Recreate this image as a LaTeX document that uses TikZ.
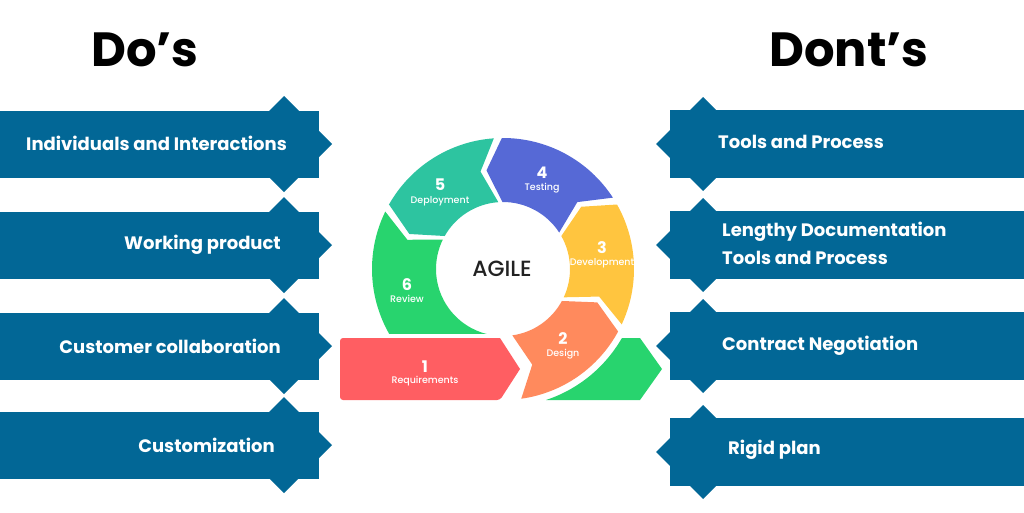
\documentclass[tikz,border=0pt]{standalone}
\usepackage{fontspec}
\setmainfont{Poppins}
\newfontfamily\popmed{Poppins Medium}

\definecolor{bannerblue}{RGB}{2,103,150}
\definecolor{reqred}{RGB}{255,94,98}
\definecolor{desorange}{RGB}{255,138,93}
\definecolor{devyellow}{RGB}{255,197,63}
\definecolor{testblue}{RGB}{86,105,214}
\definecolor{depteal}{RGB}{45,196,160}
\definecolor{revgreen}{RGB}{40,212,110}
\definecolor{agilegray}{RGB}{34,34,34}

% one piece of the ring: colour, start angle, end angle
\newcommand{\agileseg}[3]{%
  \fill[#1] (#2:131) arc[start angle=#2, end angle=#3, radius=131]
    -- (#3+9:100) -- (#3:67) arc[start angle=#3, end angle=#2, radius=67]
    -- (#2+9:100) -- cycle;}

\tikzset{
  bantext/.style={text=white, font=\fontsize{18}{28}\selectfont\bfseries, inner sep=0pt},
  segnum/.style={text=white, font=\fontsize{16}{16}\selectfont\bfseries, inner sep=0pt},
  segname/.style={text=white, font=\fontsize{9.5}{10}\popmed, inner sep=0pt},
  title/.style={font=\fontsize{48}{48}\selectfont\bfseries, inner sep=0pt}
}

\begin{document}
\begin{tikzpicture}[x=1pt, y=1pt]
\useasboundingbox (0,0) rectangle (1024,-512);

% titles
\node[title] (dos) at (145,-50) {Do’s};
\node[title] (donts) at (849,-50) {Dont’s};

% left banners
\foreach \y in {144,245,346,445} {
  \fill[bannerblue] (0,-\y-33.5) rectangle (319,-\y+33.5);
  \fill[bannerblue] (284,-\y+48) -- (332,-\y) -- (284,-\y-48) -- (236,-\y) -- cycle;
}

% right banners
\foreach \y in {144,245,346,452} {
  \fill[bannerblue] (670,-\y-34) rectangle (1024,-\y+34);
  \fill[bannerblue] (703,-\y+47) -- (750,-\y) -- (703,-\y-47) -- (656,-\y) -- cycle;
}

\node[bantext, anchor=east] (do1) at (287,-143) {Individuals and Interactions};
\node[bantext, anchor=east] (do2) at (281,-245) {Working product};
\node[bantext, anchor=east] (do3) at (281,-346) {Customer collaboration};
\node[bantext, anchor=east] (do4) at (275,-445) {Customization};

\node[bantext, anchor=west] (dont1) at (718,-142) {Tools and Process};
\node[bantext, anchor=west, align=left] (dont2) at (722,-243) {Lengthy Documentation\\Tools and Process};
\node[bantext, anchor=west] (dont3) at (722,-346) {Contract Negotiation};
\node[bantext, anchor=west] (dont4) at (728,-450) {Rigid plan};

% agile cycle
\begin{scope}[shift={(503,-269)}]
\agileseg{desorange}{-82}{-28.5}
\agileseg{devyellow}{-25}{29.5}
\agileseg{testblue}{33}{90.5}
\agileseg{depteal}{94}{150.5}
\begin{scope}
\clip (-200,-64) rectangle (60,200);
\agileseg{revgreen}{154}{268}
\end{scope}
\end{scope}

% requirements bar
\fill[reqred, rounded corners=3pt] (500,-338) -- (340,-338) -- (340,-400) -- (500,-400)
  [sharp corners] -- (520,-369) -- cycle;

% tail of the next round
\fill[revgreen] (622.5,-338) -- (640,-338) -- (662,-369) -- (640,-400) -- (546,-400)
  arc[start angle=-71.7, end angle=-30, radius=137] -- cycle;

\node[text=agilegray, font=\fontsize{22}{22}\popmed] (agile) at (502,-269) {AGILE};

\node[segnum] (n1) at (425,-367) {1};
\node[segname] (l1) at (425,-381) {Requirements};
\node[segnum] (n2) at (563,-339) {2};
\node[segname] (l2) at (563,-354) {Design};
\node[segnum] (n3) at (602,-248) {3};
\node[segname] (l3) at (602,-263) {Development};
\node[segnum] (n4) at (542,-173) {4};
\node[segname] (l4) at (542,-188) {Testing};
\node[segnum] (n5) at (440,-185) {5};
\node[segname] (l5) at (440,-201) {Deployment};
\node[segnum] (n6) at (407,-285) {6};
\node[segname] (l6) at (407,-299) {Review};
\end{tikzpicture}
\end{document}
